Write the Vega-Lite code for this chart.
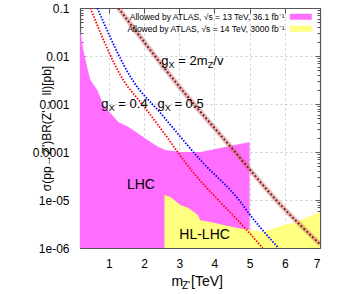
{
 "$schema": "https://vega.github.io/schema/vega-lite/v6.json",
 "width": 240, "height": 240,
 "autosize": {"type": "none"},
 "padding": {"left": 80, "top": 8, "right": 30, "bottom": 46},
 "background": "white",
 "config": {
  "view": {"stroke": null},
  "axis": {"labelFont": "Liberation Sans", "titleFont": "Liberation Sans", "labelColor": "#000", "titleColor": "#000", "titleFontWeight": "normal", "zindex": 1, "domainColor": "#555", "tickColor": "#555", "domainWidth": 1.2},
  "text": {"font": "Liberation Sans", "color": "#000"},
  "legend": {"labelFont": "Liberation Sans", "labelColor": "#000"}
 },
 "datasets": {
  "fills": [
   {"m": 0.18, "s": 0.035, "series": "Allowed by ATLAS, √s = 13 TeV, 36.1 fb⁻¹"},
   {"m": 0.275, "s": 0.0133, "series": "Allowed by ATLAS, √s = 13 TeV, 36.1 fb⁻¹"},
   {"m": 0.389, "s": 0.0056, "series": "Allowed by ATLAS, √s = 13 TeV, 36.1 fb⁻¹"},
   {"m": 0.474, "s": 0.00316, "series": "Allowed by ATLAS, √s = 13 TeV, 36.1 fb⁻¹"},
   {"m": 0.673, "s": 0.00196, "series": "Allowed by ATLAS, √s = 13 TeV, 36.1 fb⁻¹"},
   {"m": 0.844, "s": 0.00095, "series": "Allowed by ATLAS, √s = 13 TeV, 36.1 fb⁻¹"},
   {"m": 1.043, "s": 0.00065, "series": "Allowed by ATLAS, √s = 13 TeV, 36.1 fb⁻¹"},
   {"m": 1.27, "s": 0.00042, "series": "Allowed by ATLAS, √s = 13 TeV, 36.1 fb⁻¹"},
   {"m": 1.555, "s": 0.00033, "series": "Allowed by ATLAS, √s = 13 TeV, 36.1 fb⁻¹"},
   {"m": 1.81, "s": 0.00025, "series": "Allowed by ATLAS, √s = 13 TeV, 36.1 fb⁻¹"},
   {"m": 2.095, "s": 0.000178, "series": "Allowed by ATLAS, √s = 13 TeV, 36.1 fb⁻¹"},
   {"m": 2.408, "s": 0.000127, "series": "Allowed by ATLAS, √s = 13 TeV, 36.1 fb⁻¹"},
   {"m": 2.607, "s": 0.00011, "series": "Allowed by ATLAS, √s = 13 TeV, 36.1 fb⁻¹"},
   {"m": 3.034, "s": 0.0001, "series": "Allowed by ATLAS, √s = 13 TeV, 36.1 fb⁻¹"},
   {"m": 3.602, "s": 0.0001, "series": "Allowed by ATLAS, √s = 13 TeV, 36.1 fb⁻¹"},
   {"m": 4.171, "s": 0.000121, "series": "Allowed by ATLAS, √s = 13 TeV, 36.1 fb⁻¹"},
   {"m": 5.0, "s": 0.000162, "series": "Allowed by ATLAS, √s = 13 TeV, 36.1 fb⁻¹"},
   {"m": 2.58, "s": 0.0000127, "series": "Allowed by ATLAS, √s = 14 TeV, 3000 fb⁻¹"},
   {"m": 2.75, "s": 0.0000115, "series": "Allowed by ATLAS, √s = 14 TeV, 3000 fb⁻¹"},
   {"m": 3.03, "s": 0.0000079, "series": "Allowed by ATLAS, √s = 14 TeV, 3000 fb⁻¹"},
   {"m": 3.26, "s": 0.0000068, "series": "Allowed by ATLAS, √s = 14 TeV, 3000 fb⁻¹"},
   {"m": 3.52, "s": 0.0000049, "series": "Allowed by ATLAS, √s = 14 TeV, 3000 fb⁻¹"},
   {"m": 3.6, "s": 0.0000038, "series": "Allowed by ATLAS, √s = 14 TeV, 3000 fb⁻¹"},
   {"m": 3.89, "s": 0.0000035, "series": "Allowed by ATLAS, √s = 14 TeV, 3000 fb⁻¹"},
   {"m": 4.26, "s": 0.000003, "series": "Allowed by ATLAS, √s = 14 TeV, 3000 fb⁻¹"},
   {"m": 4.65, "s": 0.0000026, "series": "Allowed by ATLAS, √s = 14 TeV, 3000 fb⁻¹"},
   {"m": 5.02, "s": 0.00000237, "series": "Allowed by ATLAS, √s = 14 TeV, 3000 fb⁻¹"},
   {"m": 5.37, "s": 0.00000215, "series": "Allowed by ATLAS, √s = 14 TeV, 3000 fb⁻¹"},
   {"m": 5.54, "s": 0.00000237, "series": "Allowed by ATLAS, √s = 14 TeV, 3000 fb⁻¹"},
   {"m": 5.79, "s": 0.00000274, "series": "Allowed by ATLAS, √s = 14 TeV, 3000 fb⁻¹"},
   {"m": 5.96, "s": 0.000003, "series": "Allowed by ATLAS, √s = 14 TeV, 3000 fb⁻¹"},
   {"m": 6.25, "s": 0.0000033, "series": "Allowed by ATLAS, √s = 14 TeV, 3000 fb⁻¹"},
   {"m": 6.65, "s": 0.0000044, "series": "Allowed by ATLAS, √s = 14 TeV, 3000 fb⁻¹"},
   {"m": 7.0, "s": 0.0000056, "series": "Allowed by ATLAS, √s = 14 TeV, 3000 fb⁻¹"}
  ],
  "curves": [
   {"g": "0.4", "m": 0.474, "s": 0.1},
   {"g": "0.4", "m": 1.41, "s": 0.00316},
   {"g": "0.4", "m": 1.94, "s": 0.001},
   {"g": "0.4", "m": 2.61, "s": 0.000226},
   {"g": "0.4", "m": 3.12, "s": 0.000068},
   {"g": "0.4", "m": 4.97, "s": 0.00000215},
   {"g": "0.4", "m": 5.37, "s": 0.000001},
   {"g": "0.5", "m": 0.673, "s": 0.1},
   {"g": "0.5", "m": 1.67, "s": 0.00316},
   {"g": "0.5", "m": 2.465, "s": 0.00065},
   {"g": "0.5", "m": 3.602, "s": 0.000068},
   {"g": "0.5", "m": 4.74, "s": 0.0000091},
   {"g": "0.5", "m": 4.968, "s": 0.0000054},
   {"g": "0.5", "m": 5.821, "s": 0.000001},
   {"g": "2m", "m": 1.27, "s": 0.1},
   {"g": "2m", "m": 2.89, "s": 0.0029},
   {"g": "2m", "m": 4.47, "s": 0.000126},
   {"g": "2m", "m": 5.88, "s": 0.0000079},
   {"g": "2m", "m": 7.0, "s": 0.0000012}
  ],
  "notes": [
   {"m": 0.787, "s": 0.001, "t": "g", "k": "g"},
   {"m": 0.787, "s": 0.001, "t": "X", "k": "sub"},
   {"m": 0.787, "s": 0.001, "t": " = 0.4", "k": "rest"},
   {"m": 2.38, "s": 0.001, "t": "g", "k": "g"},
   {"m": 2.38, "s": 0.001, "t": "X", "k": "sub"},
   {"m": 2.38, "s": 0.001, "t": " = 0.5", "k": "rest"},
   {"m": 2.49, "s": 0.0079, "t": "g", "k": "g"},
   {"m": 2.49, "s": 0.0079, "t": "X", "k": "sub"},
   {"m": 2.49, "s": 0.0079, "t": " = 2m", "k": "rest"},
   {"m": 2.49, "s": 0.0079, "t": "Z", "k": "sub2"},
   {"m": 2.49, "s": 0.0079, "t": "/v", "k": "rest2"},
   {"m": 1.91, "s": 0.0000205, "t": "LHC", "k": "big"},
   {"m": 3.72, "s": 0.00000187, "t": "HL-LHC", "k": "big"}
  ]
 },
 "resolve": {"axis": {"x": "independent", "y": "independent"}},
 "layer": [
  {
   "data": {"name": "fills"},
   "mark": {"type": "area", "clip": true},
   "encoding": {
    "x": {"field": "m", "type": "quantitative", "scale": {"domain": [0.18, 7], "nice": false, "zero": false},
     "axis": {"orient": "bottom", "values": [1, 2, 3, 4, 5, 6, 7], "format": "d", "grid": true, "gridColor": "#999", "gridOpacity": 0.5, "gridDash": [2, 3], "tickSize": -5, "labelFontSize": 12, "labelPadding": 15, "domain": true,
      "title": "m", "titleFontSize": 14, "titleX": 91, "titleY": 37, "titleAlign": "left", "titleBaseline": "alphabetic"}},
    "y": {"field": "s", "type": "quantitative", "stack": null, "scale": {"type": "log", "domain": [0.000001, 0.1], "nice": false},
     "axis": {"orient": "left", "values": [0.000001, 0.00001, 0.0001, 0.001, 0.01, 0.1], "grid": true, "gridColor": "#999", "gridOpacity": 0.5, "gridDash": [2, 3], "tickSize": -5, "labelFontSize": 12, "labelPadding": 16, "domain": true,
      "labelExpr": "datum.value > 0.05 ? '0.1' : datum.value > 0.005 ? '0.01' : datum.value > 0.0005 ? '0.001' : datum.value > 0.00005 ? '0.0001' : datum.value > 0.000005 ? '1e-05' : '1e-06'",
      "title": "σ(pp→Z')BR(Z'→ ll)[pb]", "titleFontSize": 12, "titleX": -34, "titleY": 120, "titleAngle": -90, "titleAlign": "center", "titleBaseline": "middle"}},
    "y2": {"datum": 0.000001},
    "fill": {"field": "series", "type": "nominal",
     "scale": {"domain": ["Allowed by ATLAS, √s = 13 TeV, 36.1 fb⁻¹", "Allowed by ATLAS, √s = 14 TeV, 3000 fb⁻¹"], "range": ["#ff6eff", "#ffff80"]},
     "legend": {"orient": "none", "legendX": 216.5, "legendY": 4.5, "title": null, "symbolType": "M-2.75,-0.75H2.75V0.75H-2.75Z", "symbolSize": 64, "symbolStrokeWidth": 0, "symbolOpacity": 1, "labelAlign": "right", "labelOffset": -20.5, "labelFontSize": 8.5, "rowPadding": 3, "padding": 0, "labelLimit": 0}}
   }
  },
  {
   "data": {"name": "curves"},
   "transform": [{"filter": "datum.g == '2m'"}],
   "mark": {"type": "line", "color": "#c07070", "strokeWidth": 5, "opacity": 0.45, "interpolate": "monotone", "clip": true},
   "encoding": {
    "x": {"field": "m", "type": "quantitative", "axis": null},
    "y": {"field": "s", "type": "quantitative", "axis": null}
   }
  },
  {
   "data": {"name": "curves"},
   "transform": [{"filter": "datum.g == '2m'"}],
   "mark": {"type": "line", "color": "#8b1010", "strokeWidth": 1.8, "strokeDash": [2, 2], "interpolate": "monotone", "clip": true},
   "encoding": {
    "x": {"field": "m", "type": "quantitative", "axis": {"orient": "bottom", "labels": false, "ticks": false, "grid": false, "domain": false, "title": "[TeV]", "titleFontSize": 14, "titleX": 110.5, "titleY": 37, "titleAlign": "left", "titleBaseline": "alphabetic"}},
    "y": {"field": "s", "type": "quantitative", "axis": {"orient": "right", "values": [0.000002, 0.000003, 0.000004, 0.000005, 0.000006, 0.000007, 0.000008, 0.000009, 0.00002, 0.00003, 0.00004, 0.00005, 0.00006, 0.00007, 0.00008, 0.00009, 0.0002, 0.0003, 0.0004, 0.0005, 0.0006, 0.0007, 0.0008, 0.0009, 0.002, 0.003, 0.004, 0.005, 0.006, 0.007, 0.008, 0.009, 0.02, 0.03, 0.04, 0.05, 0.06, 0.07, 0.08, 0.09], "tickSize": -3, "labels": false, "grid": false, "domain": false, "title": null}}
   }
  },
  {
   "data": {"name": "curves"},
   "transform": [{"filter": "datum.g == '0.4'"}],
   "mark": {"type": "line", "color": "#ff0000", "strokeWidth": 1.8, "strokeDash": [1.5, 1.5], "interpolate": "monotone", "clip": true},
   "encoding": {
    "x": {"field": "m", "type": "quantitative", "axis": {"orient": "top", "values": [1, 2, 3, 4, 5, 6, 7], "tickSize": -5, "labels": false, "grid": false, "domain": true, "title": null}},
    "y": {"field": "s", "type": "quantitative", "axis": {"orient": "left", "values": [0.000002, 0.000003, 0.000004, 0.000005, 0.000006, 0.000007, 0.000008, 0.000009, 0.00002, 0.00003, 0.00004, 0.00005, 0.00006, 0.00007, 0.00008, 0.00009, 0.0002, 0.0003, 0.0004, 0.0005, 0.0006, 0.0007, 0.0008, 0.0009, 0.002, 0.003, 0.004, 0.005, 0.006, 0.007, 0.008, 0.009, 0.02, 0.03, 0.04, 0.05, 0.06, 0.07, 0.08, 0.09], "tickSize": -3, "labels": false, "grid": false, "domain": false, "title": null}}
   }
  },
  {
   "data": {"name": "curves"},
   "transform": [{"filter": "datum.g == '0.5'"}],
   "mark": {"type": "line", "color": "#0000ff", "strokeWidth": 1.8, "strokeDash": [1.5, 1.5], "interpolate": "monotone", "clip": true},
   "encoding": {
    "x": {"field": "m", "type": "quantitative", "axis": {"orient": "bottom", "labels": false, "ticks": false, "grid": false, "domain": false, "title": "Z'", "titleFontSize": 10, "titleX": 101.5, "titleY": 40, "titleAlign": "left", "titleBaseline": "alphabetic"}},
    "y": {"field": "s", "type": "quantitative", "axis": {"orient": "right", "values": [0.000001, 0.00001, 0.0001, 0.001, 0.01, 0.1], "tickSize": -5, "labels": false, "grid": false, "domain": true, "title": null}}
   }
  },
  {
   "data": {"name": "notes"},
   "transform": [{"filter": "datum.k == 'g'"}],
   "mark": {"type": "text", "align": "left", "baseline": "middle", "fontSize": 13},
   "encoding": {"x": {"field": "m", "type": "quantitative", "axis": null}, "y": {"field": "s", "type": "quantitative", "axis": null}, "text": {"field": "t"}}
  },
  {
   "data": {"name": "notes"},
   "transform": [{"filter": "datum.k == 'sub'"}],
   "mark": {"type": "text", "align": "left", "baseline": "middle", "fontSize": 9, "dx": 7.3, "dy": 4},
   "encoding": {"x": {"field": "m", "type": "quantitative", "axis": null}, "y": {"field": "s", "type": "quantitative", "axis": null}, "text": {"field": "t"}}
  },
  {
   "data": {"name": "notes"},
   "transform": [{"filter": "datum.k == 'rest'"}],
   "mark": {"type": "text", "align": "left", "baseline": "middle", "fontSize": 13, "dx": 17},
   "encoding": {"x": {"field": "m", "type": "quantitative", "axis": null}, "y": {"field": "s", "type": "quantitative", "axis": null}, "text": {"field": "t"}}
  },
  {
   "data": {"name": "notes"},
   "transform": [{"filter": "datum.k == 'sub2'"}],
   "mark": {"type": "text", "align": "left", "baseline": "middle", "fontSize": 9, "dx": 46.5, "dy": 4},
   "encoding": {"x": {"field": "m", "type": "quantitative", "axis": null}, "y": {"field": "s", "type": "quantitative", "axis": null}, "text": {"field": "t"}}
  },
  {
   "data": {"name": "notes"},
   "transform": [{"filter": "datum.k == 'rest2'"}],
   "mark": {"type": "text", "align": "left", "baseline": "middle", "fontSize": 13, "dx": 52},
   "encoding": {"x": {"field": "m", "type": "quantitative", "axis": null}, "y": {"field": "s", "type": "quantitative", "axis": null}, "text": {"field": "t"}}
  },
  {
   "data": {"name": "notes"},
   "transform": [{"filter": "datum.k == 'big'"}],
   "mark": {"type": "text", "align": "center", "baseline": "middle", "fontSize": 14},
   "encoding": {"x": {"field": "m", "type": "quantitative", "axis": null}, "y": {"field": "s", "type": "quantitative", "axis": null}, "text": {"field": "t"}}
  }
 ]
}
